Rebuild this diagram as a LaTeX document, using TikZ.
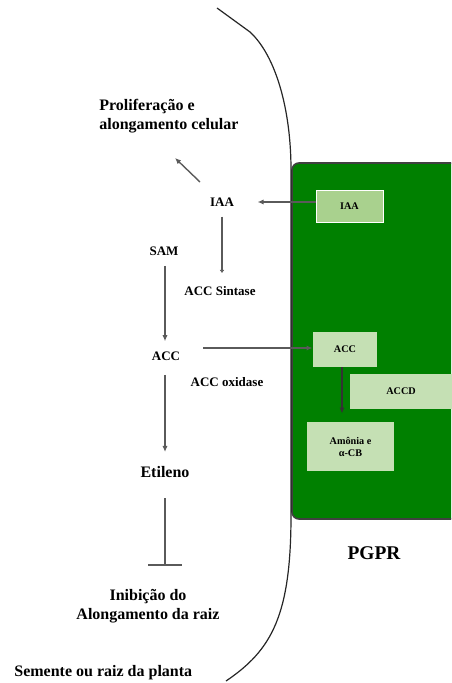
\documentclass[tikz,border=0pt]{standalone}
\usepackage{fontspec}
\setmainfont{Liberation Serif}
\usepackage{tikz}
\usetikzlibrary{arrows.meta,calc}

\definecolor{pgprgreen}{RGB}{0,128,0}
\definecolor{iaagreen}{RGB}{169,209,142}
\definecolor{palegreen}{RGB}{197,224,180}
\definecolor{linegray}{RGB}{90,90,90}

\tikzset{
  lbl/.style={font=\fontsize{6.5}{8}\selectfont\bfseries,inner sep=1pt},
  biglbl/.style={font=\fontsize{8}{9.8}\selectfont\bfseries,inner sep=1pt,align=center},
  boxlbl/.style={font=\fontsize{5.1}{7}\selectfont\bfseries,align=center},
  arr/.style={draw=linegray,line width=0.7pt,-{Latex[length=3pt,width=2.6pt]}},
  plain/.style={draw=linegray,line width=0.7pt},
}

\begin{document}
\begin{tikzpicture}[x=0.5pt,y=-0.5pt]
    \useasboundingbox (0,0) rectangle (451,683);
    \begin{scope}
      \clip (0,0) rectangle (451,683);
      % bacteria (PGPR)
      \draw[fill=pgprgreen,draw=darkgray,line width=0.8pt,rounded corners=3.5pt]
        (292,163) rectangle (470,519);
      % seed / root outline
      \draw[black!85,line width=0.6pt] (217,8) -- (250,32)
        .. controls (276,56) and (291,110) .. (291,170) -- (291,515)
        .. controls (291,615) and (272,650) .. (226,681);
    \end{scope}
    % boxes inside the bacteria
    \node[fill=iaagreen,draw=white,line width=0.4pt,minimum width=33.5pt,minimum height=16pt,boxlbl]
      (iaabox) at (349.5,206) {IAA};
    \node[fill=palegreen,minimum width=32pt,minimum height=17.5pt,boxlbl]
      (accbox) at (345,349.5) {ACC};
    \node[fill=palegreen,minimum width=51pt,minimum height=17.5pt,boxlbl]
      (accdbox) at (401,391.5) {ACCD};
    \node[fill=palegreen,minimum width=43.5pt,minimum height=24.5pt,boxlbl]
      (amoniabox) at (350.5,446.5) {Amônia e\\[-1pt]α-CB};
    % plant side
    \node[biglbl,align=left,anchor=west] (prolif) at (97,116)
      {Proliferação e\\alongamento celular};
    \node[lbl] (iaa) at (222,202) {IAA};
    \node[lbl] (sam) at (164,251) {SAM};
    \node[lbl] (accsint) at (220,291) {ACC Sintase};
    \node[lbl] (acc) at (166,356) {ACC};
    \node[lbl] (accox) at (227,382) {ACC oxidase};
    \node[biglbl] (etileno) at (165,472) {Etileno};
    \node[biglbl] (inib) at (148,606) {Inibição do\\Alongamento da raiz};
    \node[font=\fontsize{9.7}{11}\selectfont\bfseries] (pgpr) at (374,553) {PGPR};
    \node[biglbl,anchor=west] (semente) at (12,673) {Semente ou raiz da planta};
    \coordinate (prolifend) at (175,158);
    \coordinate (inibbar) at (165,565);
    % connectors
    \draw[arr] (iaabox.west |- 0,202) -- ++(-58,0);
    \draw[arr] (200,182) -- (prolifend);
    \draw[draw=linegray,line width=0.7pt,-{Latex[length=1.5pt,width=2.4pt]}]
      (iaa.south) ++(0,8) -- (222,273);
    \draw[arr] (sam.south) ++(1,8) -- ($(acc.north)+(-1,-8)$);
    \draw[arr] (203,348) -- (accbox.west |- 0,348);
    \draw[arr,draw=black!80,shorten >=4pt] (accbox.south -| 342,0) -- (amoniabox.north -| 342,0);
    \draw[arr] (acc.south) ++(-1,12) -- ($(etileno.north)+(0,-12)$);
    \draw[plain] (etileno.south) ++(0,18) -- (inibbar);
    \draw[plain] ($(inibbar)+(-17,0)$) -- ($(inibbar)+(17,0)$);
\end{tikzpicture}
\end{document}
